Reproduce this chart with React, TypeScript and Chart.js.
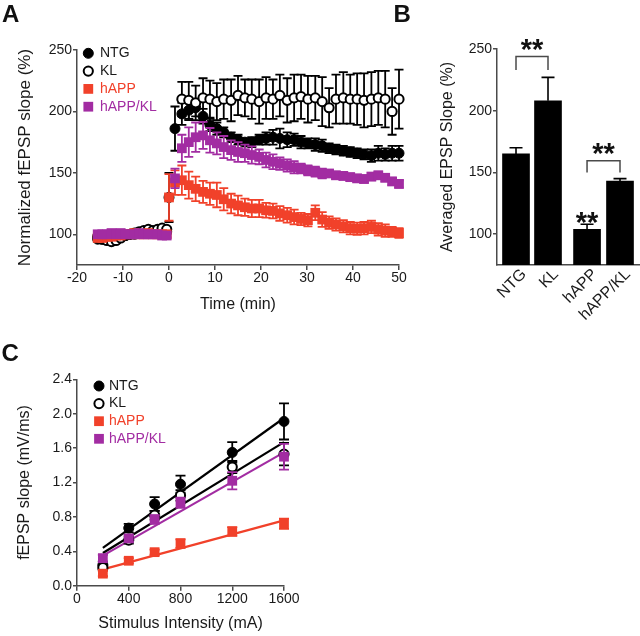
import React, { useEffect, useRef } from 'react';
import { Chart, registerables } from 'chart.js';

Chart.register(...registerables);

const FONT = "'Liberation Sans', Arial, Helvetica, sans-serif";
const INK = '#1a1a1a';
const AXIS = '#4a4a4a';
const RED = '#f1412a';
const PURPLE = '#a22ca2';

// ---------------- Panel A : LTP time course ----------------
const groups = ['NTG', 'KL', 'hAPP', 'hAPP/KL'];
const timeTicks = [-20, -10, 0, 10, 20, 30, 40, 50];
const pctTicks = [100, 150, 200, 250];

const timeMin = [
  -15.5, -14.5, -13.5, -12.5, -11.5, -10.5, -9.5, -8.5, -7.5, -6.5, -5.5, -4.5, -3.5, -2.5, -1.5, -0.5,
  0,
  1.3, 2.8, 4.3, 5.8, 7.4, 8.9, 10.4, 11.9, 13.5, 15.0, 16.5, 18.0, 19.6, 21.1, 22.6, 24.1, 25.7,
  27.2, 28.7, 30.2, 31.8, 33.3, 34.8, 36.3, 37.9, 39.4, 40.9, 42.4, 44.0, 45.5, 47.0, 48.5, 50.0,
];

const ntgPct = [
  96, 96, 97, 97, 98, 99, 99, 100, 100, 101, 101, 102, 102, 103, 103, 102,
  130,
  186, 198, 201, 203, 196, 189, 186, 183, 179, 177, 175, 175, 177, 178, 179, 178, 177,
  177, 175, 174, 173, 172, 170, 169, 168, 167, 166, 165, 164, 166, 165, 166, 166,
];
const ntgErr = [
  2, 2, 2, 2, 2, 2, 2, 2, 2, 2, 2, 2, 2, 2, 2, 2,
  20,
  18, 9, 8, 7, 6, 5, 5, 4, 4, 4, 3, 4, 4, 5, 6, 8, 6,
  5, 5, 4, 5, 5, 4, 4, 4, 4, 4, 4, 5, 6, 5, 6, 6,
];

const klPct = [
  98, 96, 95, 94, 95, 97, 99, 100, 101, 102, 103, 104, 103, 104, 105, 104,
  null,
  null, 210, 209, 207, 211, 210, 208, 210, 209, 213, 211, 210, 208, 211, 210, 213, 209,
  211, 212, 210, 211, 208, 203, 210, 211, 210, 210, 209, 210, 211, 210, 200, 210,
];
const klErr = [
  2, 2, 2, 2, 2, 2, 2, 2, 2, 2, 2, 2, 2, 2, 2, 2,
  0,
  0, 14, 15, 14, 16, 15, 15, 16, 17, 16, 15, 16, 18, 17, 16, 17, 18,
  19, 18, 19, 18, 20, 16, 20, 21, 20, 21, 22, 22, 22, 23, 19, 24,
];

const happPct = [
  97, 97, 98, 98, 99, 99, 100, 100, 101, 100, 100, 101, 100, 100, 100, 100,
  130,
  142, 144, 140, 137, 134.5, 133, 132, 128.5, 125, 123.5, 122, 121, 121, 119.5, 119, 117, 115.5,
  114, 112.5, 111.5, 117.5, 112, 109.5, 108, 106.5, 105, 104.5, 105, 106, 104, 103, 102, 101,
];
const happErr = [
  2, 2, 2, 2, 2, 2, 2, 2, 2, 2, 2, 2, 2, 2, 2, 2,
  19,
  10, 12, 11, 10, 9, 9, 10, 9, 8, 8, 7, 7, 7, 6, 6, 6, 6,
  6, 5, 5, 6, 6, 5, 5, 5, 5, 5, 5, 5, 5, 5, 4, 4,
];

const happKlPct = [
  100, 100, 100, 101, 100, 101, 100, 100, 100, 101, 100, 100, 100, 100, 99, 99,
  null,
  145.5, 170, 175, 179, 180.5, 176.5, 174, 171, 168.5, 167, 166, 164.5, 163, 160.5, 159, 157.5, 156,
  154.5, 153.5, 152, 151, 149.5, 149.5, 148, 147.5, 146.5, 145.5, 145, 147, 148, 146, 143, 141,
];
const happKlErr = [
  2, 2, 2, 2, 2, 2, 2, 2, 2, 2, 2, 2, 2, 2, 2, 2,
  0,
  8, 11, 12, 12, 11, 10, 9, 9, 8, 8, 7, 7, 6, 6, 6, 5, 5,
  5, 4, 4, 4, 4, 3, 3, 3, 3, 3, 3, 3, 3, 3, 3, 3,
];

// ---------------- Panel B : averaged EPSP slope ----------------
const barGroups = ['NTG', 'KL', 'hAPP', 'hAPP/KL'];
const barPositions = [0, 1, 2.22, 3.25];
const barMeans = [165, 208, 104, 143];
const barSem = [5, 19, 4, 2];
const sigBrackets = [
  { from: 0, to: 1, top: 244, foot: 233 },
  { from: 2, to: 3, top: 159.5, foot: 150 },
];
const sigStars = [
  { over: [0, 1], y: 254, text: '**' },
  { over: [2, 3], y: 170, text: '**' },
  { over: [2], y: 114, text: '**' },
];

// ---------------- Panel C : input-output ----------------
const stimulusMA = [200, 400, 600, 800, 1200, 1600];
const stimTicks = [0, 400, 800, 1200, 1600];
const slopeTicks = [0, 0.4, 0.8, 1.2, 1.6, 2.0, 2.4];
const ntgSlope = [0.24, 0.67, 0.95, 1.18, 1.55, 1.91];
const ntgSlopeErr = [0.04, 0.05, 0.08, 0.1, 0.12, 0.21];
const klSlope = [0.21, 0.53, 0.82, 1.05, 1.38, 1.53];
const klSlopeErr = [0.03, 0.04, 0.05, 0.06, 0.07, 0.13];
const happSlope = [0.14, 0.29, 0.39, 0.49, 0.63, 0.72];
const happSlopeErr = [0.03, 0.03, 0.03, 0.05, 0.05, 0.06];
const happKlSlope = [0.32, 0.55, 0.77, 0.965, 1.22, 1.5];
const happKlSlopeErr = [0.04, 0.04, 0.05, 0.06, 0.1, 0.15];
const fitX = [200, 1600];
const ntgFit = [0.44, 1.95];
const klFit = [0.38, 1.67];
const happFit = [0.19, 0.76];
const happKlFit = [0.35, 1.55];

// ---------------- helpers ----------------
const pts = (xs: number[], ys: (number | null)[]) => xs.map((x, i) => ({ x, y: ys[i] }));
const fixWidth = (w: number) => (s: any) => { s.width = w; };
const fixHeight = (h: number) => (s: any) => { s.height = h; s.paddingLeft = 0; s.paddingRight = 0; };
const setTicks = (vals: number[]) => (s: any) => { s.ticks = vals.map((v) => ({ value: v })); };

function yAxis(min: number, max: number, ticks: number[], title: string, width: number, titleCx: number, titleSize: number, fmt?: (v: number) => string) {
  return {
    type: 'linear', position: 'left', min, max,
    afterBuildTicks: setTicks(ticks),
    afterFit: fixWidth(width),
    grid: { drawOnChartArea: false, drawTicks: true, tickLength: 4, color: AXIS, lineWidth: 1.5 },
    border: { display: true, color: AXIS, width: 1.5 },
    ticks: { color: INK, font: { size: 14 }, padding: 1, callback: (v: number) => (fmt ? fmt(v) : String(v)) },
    title: { display: true, text: title, color: INK, font: { size: titleSize }, padding: { top: titleCx - titleSize * 0.6, bottom: 0 } },
  };
}

function xAxis(min: number, max: number, ticks: number[], title: string, height: number, titleBottomPad: number) {
  return {
    type: 'linear', position: 'bottom', min, max,
    afterBuildTicks: setTicks(ticks),
    afterFit: fixHeight(height),
    grid: { drawOnChartArea: false, drawTicks: true, tickLength: 5, color: AXIS, lineWidth: 1.5 },
    border: { display: true, color: AXIS, width: 1.5 },
    ticks: { color: INK, font: { size: 14 }, padding: 0, maxRotation: 0, autoSkip: false, callback: (v: number) => String(v) },
    title: { display: true, text: title, color: INK, font: { size: 16 }, padding: { top: 0, bottom: titleBottomPad } },
  };
}

const errorBarPlugin = {
  id: 'errorBars',
  beforeDatasetDraw(chart: any, args: any) {
    const ds: any = chart.data.datasets[args.index];
    if (!ds.errors) return;
    const meta = args.meta;
    const yScale = chart.scales[meta.yAxisID];
    const ctx = chart.ctx;
    const cap = ds.capWidth ?? 9;
    ctx.save();
    ctx.strokeStyle = ds.errorColor;
    ctx.lineWidth = ds.errorWidth ?? 1.5;
    meta.data.forEach((el: any, i: number) => {
      const raw: any = ds.data[i];
      const v = raw ? raw.y : null;
      const e = ds.errors[i];
      if (v == null || !e || el.skip || !isFinite(el.x)) return;
      const x = el.x;
      const yHi = yScale.getPixelForValue(v + e);
      const yLo = ds.errorUpOnly ? yScale.getPixelForValue(v) : yScale.getPixelForValue(v - e);
      ctx.beginPath();
      ctx.moveTo(x, yLo);
      ctx.lineTo(x, yHi);
      ctx.moveTo(x - cap / 2, yHi);
      ctx.lineTo(x + cap / 2, yHi);
      if (!ds.errorUpOnly) {
        ctx.moveTo(x - cap / 2, yLo);
        ctx.lineTo(x + cap / 2, yLo);
      }
      ctx.stroke();
    });
    ctx.restore();
  },
};

const groupLegendPlugin = {
  id: 'groupLegend',
  afterDraw(chart: any, _args: any, opts: any) {
    const { ctx, chartArea } = chart;
    ctx.save();
    ctx.font = `14px ${FONT}`;
    ctx.textBaseline = 'middle';
    ctx.textAlign = 'left';
    let row = 0;
    chart.data.datasets.forEach((ds: any) => {
      if (!ds.legendText) return;
      const cy = chartArea.top + opts.top + row * opts.step;
      const cx = chartArea.left + opts.markerX;
      ctx.beginPath();
      if (ds.pointStyle === 'rect') {
        const s = ds.pointRadius * Math.SQRT2;
        ctx.fillStyle = ds.backgroundColor;
        ctx.fillRect(cx - s / 2, cy - s / 2, s, s);
      } else {
        ctx.arc(cx, cy, ds.pointRadius, 0, Math.PI * 2);
        ctx.fillStyle = ds.backgroundColor;
        ctx.fill();
        if (ds.borderWidth) {
          ctx.lineWidth = ds.borderWidth;
          ctx.strokeStyle = ds.borderColor;
          ctx.stroke();
        }
      }
      ctx.fillStyle = ds.legendText;
      ctx.fillText(ds.label, chartArea.left + opts.textX, cy);
      row++;
    });
    ctx.restore();
  },
};

const significancePlugin = {
  id: 'significance',
  afterDatasetsDraw(chart: any) {
    const { ctx } = chart;
    const xs = chart.scales.x;
    const ys = chart.scales.y;
    ctx.save();
    ctx.strokeStyle = AXIS;
    ctx.lineWidth = 1.5;
    sigBrackets.forEach((b) => {
      const x1 = xs.getPixelForValue(barPositions[b.from]);
      const x2 = xs.getPixelForValue(barPositions[b.to]);
      const yT = ys.getPixelForValue(b.top);
      const yF = ys.getPixelForValue(b.foot);
      ctx.beginPath();
      ctx.moveTo(x1, yF);
      ctx.lineTo(x1, yT);
      ctx.lineTo(x2, yT);
      ctx.lineTo(x2, yF);
      ctx.stroke();
    });
    const size = 29;
    ctx.font = `bold ${size}px ${FONT}`;
    ctx.fillStyle = '#111';
    ctx.textAlign = 'center';
    ctx.textBaseline = 'alphabetic';
    sigStars.forEach((s) => {
      const xv = s.over.reduce((a, k) => a + barPositions[k], 0) / s.over.length;
      const x = xs.getPixelForValue(xv);
      const y = ys.getPixelForValue(s.y);
      ctx.fillText(s.text, x, y + size * 0.515);
    });
    ctx.restore();
  },
};

function markerSet(i: number) {
  if (i === 0) return { pointStyle: 'circle', pointRadius: 5, backgroundColor: '#000', borderColor: '#000', borderWidth: 1, errorColor: '#000', legendText: INK };
  if (i === 1) return { pointStyle: 'circle', pointRadius: 4.6, backgroundColor: '#fff', borderColor: '#000', borderWidth: 2, errorColor: '#000', legendText: INK };
  if (i === 2) return { pointStyle: 'rect', pointRadius: 6.9, backgroundColor: RED, borderColor: RED, borderWidth: 0, errorColor: RED, legendText: RED };
  return { pointStyle: 'rect', pointRadius: 6.9, backgroundColor: PURPLE, borderColor: PURPLE, borderWidth: 0, errorColor: PURPLE, legendText: PURPLE };
}

const baseOptions = {
  animation: false,
  responsive: false,
  events: [],
};

export default function App() {
  const aRef = useRef<HTMLCanvasElement>(null);
  const bRef = useRef<HTMLCanvasElement>(null);
  const cRef = useRef<HTMLCanvasElement>(null);

  useEffect(() => {
    Chart.defaults.font.family = FONT;
    Chart.defaults.color = INK;

    const seriesA = [ntgPct, klPct, happPct, happKlPct];
    const errA = [ntgErr, klErr, happErr, happKlErr];
    const chartA = new Chart(aRef.current as HTMLCanvasElement, {
      type: 'scatter',
      data: {
        datasets: groups.map((g, i) => ({
          label: g,
          data: pts(timeMin, seriesA[i]),
          errors: errA[i],
          capWidth: 9,
          errorWidth: 1.8,
          order: 3 - i,
          clip: false,
          ...markerSet(i),
        })) as any,
      },
      options: {
        ...baseOptions,
        layout: { padding: { top: 50, right: 21, left: 0, bottom: 0 } },
        plugins: {
          legend: { display: false },
          tooltip: { enabled: false },
          groupLegend: { markerX: 11.3, textX: 23, top: 3.3, step: 17.8 },
        },
        scales: {
          x: xAxis(-20, 50, timeTicks, 'Time (min)', 55, 5.4),
          y: yAxis(75, 250, pctTicks, 'Normalized fEPSP slope (%)', 77, 25, 17),
        },
      } as any,
      plugins: [errorBarPlugin, groupLegendPlugin],
    });

    const chartB = new Chart(bRef.current as HTMLCanvasElement, {
      type: 'bar',
      data: {
        datasets: [{
          label: 'Averaged EPSP slope',
          data: pts(barPositions, barMeans),
          errors: barSem,
          errorUpOnly: true,
          errorColor: '#000',
          errorWidth: 1.6,
          capWidth: 13,
          backgroundColor: '#000',
          borderWidth: 0,
          barThickness: 27,
        }] as any,
      },
      options: {
        ...baseOptions,
        layout: { padding: { top: 49, right: 0, left: 0, bottom: 0 } },
        plugins: { legend: { display: false }, tooltip: { enabled: false } },
        scales: {
          x: {
            type: 'linear', position: 'bottom', min: -0.594, max: 3.875, offset: false,
            afterBuildTicks: setTicks(barPositions),
            afterFit: fixHeight(55),
            grid: { display: false, drawTicks: false, tickLength: 0 },
            border: { display: true, color: AXIS, width: 1.5 },
            ticks: {
              color: INK, font: { size: 16 }, padding: 0, labelOffset: 8, minRotation: 45, maxRotation: 45, autoSkip: false,
              callback: (_v: number, i: number) => barGroups[i],
            },
          },
          y: yAxis(75, 250, pctTicks, 'Averaged EPSP Slope (%)', 117, 68, 16),
        },
      } as any,
      plugins: [errorBarPlugin, significancePlugin],
    });

    const seriesC = [ntgSlope, klSlope, happSlope, happKlSlope];
    const errC = [ntgSlopeErr, klSlopeErr, happSlopeErr, happKlSlopeErr];
    const fits = [ntgFit, klFit, happFit, happKlFit];
    const fitColors = ['#000', '#000', RED, PURPLE];
    const chartC = new Chart(cRef.current as HTMLCanvasElement, {
      type: 'scatter',
      data: {
        datasets: [
          ...groups.map((g, i) => ({
            label: g,
            data: pts(stimulusMA, seriesC[i]),
            errors: errC[i],
            capWidth: 10,
            errorWidth: 1.8,
            order: 3 - i,
            clip: false,
            ...markerSet(i),
          })),
          ...groups.map((g, i) => ({
            type: 'line',
            label: g + ' fit',
            data: pts(fitX, fits[i]),
            borderColor: fitColors[i],
            borderWidth: 2.2,
            pointRadius: 0,
            fill: false,
            showLine: true,
            order: 10 + i,
            clip: false,
          })),
        ] as any,
      },
      options: {
        ...baseOptions,
        layout: { padding: { top: 59.3, right: 36, left: 0, bottom: 0 } },
        plugins: {
          legend: { display: false },
          tooltip: { enabled: false },
          groupLegend: { markerX: 22, textX: 32, top: 6.7, step: 17.6 },
        },
        scales: {
          x: xAxis(0, 1600, stimTicks, 'Stimulus Intensity (mA)', 50.3, 2.4),
          y: yAxis(0, 2.4, slopeTicks, 'fEPSP slope (mV/ms)', 77, 25, 16, (v) => v.toFixed(1)),
        },
      } as any,
      plugins: [errorBarPlugin, groupLegendPlugin],
    });

    return () => {
      chartA.destroy();
      chartB.destroy();
      chartC.destroy();
    };
  }, []);

  const letter = (left: number, top: number): React.CSSProperties => ({
    position: 'absolute', left, top, font: `bold 24px ${FONT}`, lineHeight: '24px', color: '#111', margin: 0,
  });

  return (
    <div style={{ position: 'absolute', left: 0, top: 0, width: 640, height: 636, background: '#fff', overflow: 'hidden' }}>
      <canvas ref={aRef} width={420} height={320} style={{ position: 'absolute', left: 0, top: 0 }} />
      <canvas ref={bRef} width={260} height={320} style={{ position: 'absolute', left: 380, top: 0 }} />
      <canvas ref={cRef} width={320} height={316} style={{ position: 'absolute', left: 0, top: 320 }} />
      <div style={letter(2, 1.5)}>A</div>
      <div style={letter(393.5, 1.5)}>B</div>
      <div style={letter(1.5, 340.8)}>C</div>
    </div>
  );
}
